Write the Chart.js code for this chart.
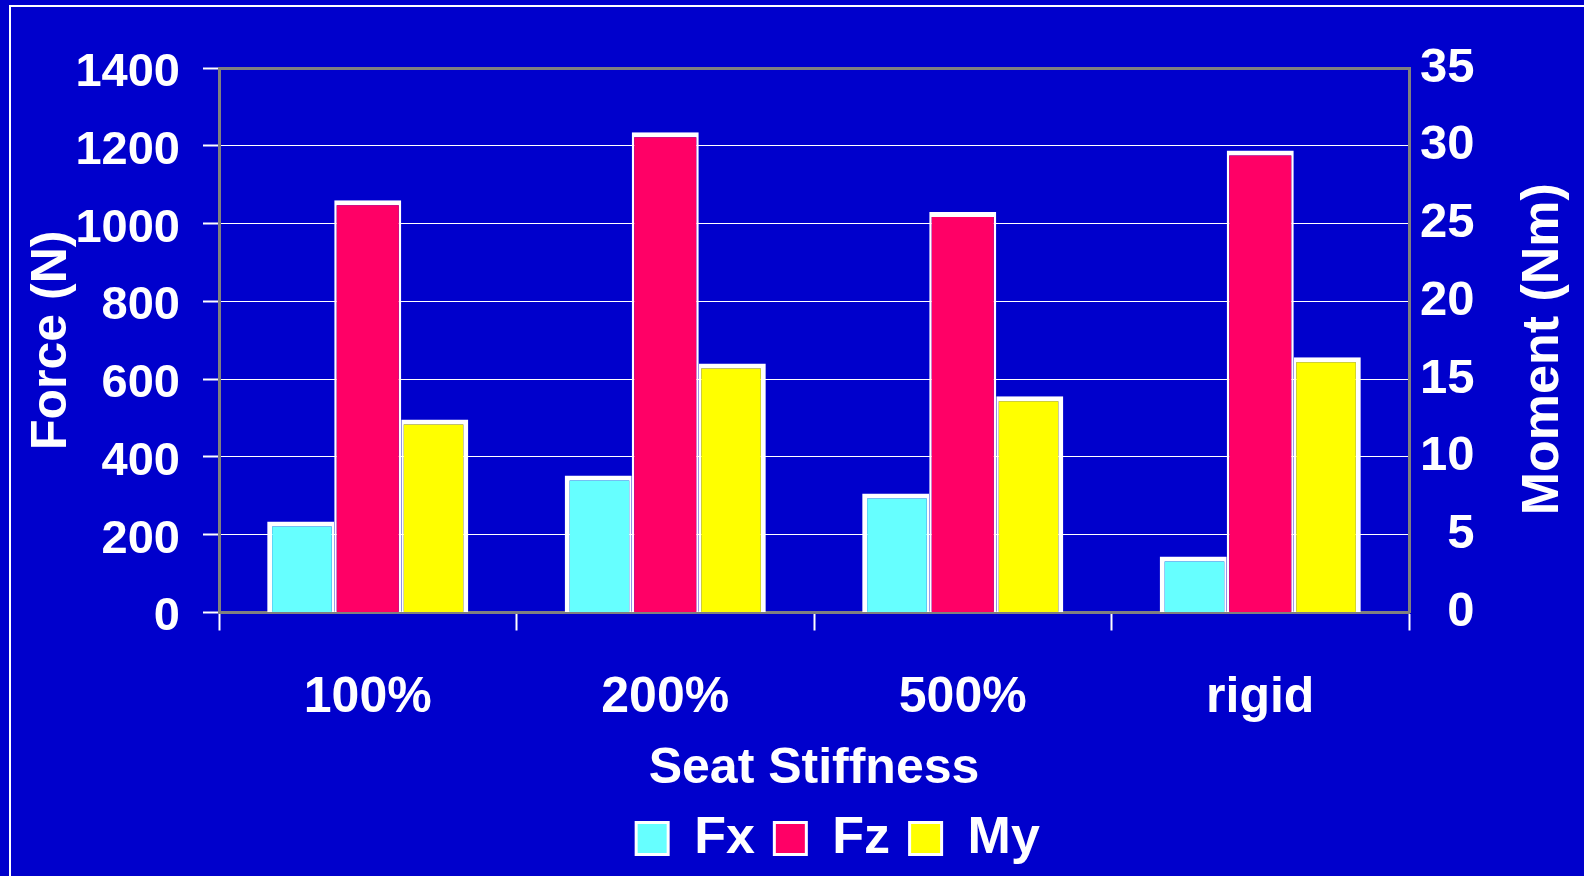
<!DOCTYPE html>
<html>
<head>
<meta charset="utf-8">
<title>Seat Stiffness</title>
<script src="https://cdn.jsdelivr.net/npm/chart.js@4/dist/chart.umd.min.js"></script>
<style>
  html, body { margin: 0; padding: 0; background: #0000cc; }
  #wrap { width: 1584px; height: 876px; position: relative; }
</style>
</head>
<body>
<div id="wrap"><canvas id="chart"></canvas></div>
<script>
// seat stiffness cases and measured loads
const categories = ['100%', '200%', '500%', 'rigid'];
const fx = [234, 352, 306, 144];      // N
const fz = [1060, 1235, 1030, 1188];  // N
const my = [12.4, 16.0, 13.9, 16.4];  // Nm

const forceTicks = [0, 200, 400, 600, 800, 1000, 1200, 1400];
const momentTicks = [0, 5, 10, 15, 20, 25, 30, 35];
const momentTitle = 'Moment (Nm)';

const BG = '#0000cc';
const GREY = '#808080';
const FONT = '"Liberation Sans", Arial, sans-serif';

// paint the slide background and the white frame behind everything
const backdrop = {
    id: 'backdrop',
    beforeDraw(chart) {
        const ctx = chart.ctx;
        ctx.save();
        ctx.fillStyle = BG;
        ctx.fillRect(0, 0, chart.width, chart.height);
        ctx.strokeStyle = '#ffffff';
        ctx.lineWidth = 2;
        ctx.strokeRect(10, 6, chart.width + 20, chart.height + 20);
        ctx.restore();
    }
};

// Chart.js turns right-hand titles clockwise; this one reads bottom-to-top
const rightTitle = {
    id: 'rightTitle',
    afterDraw(chart) {
        const scale = chart.scales.y1;
        const area = chart.chartArea;
        const ctx = chart.ctx;
        ctx.save();
        ctx.translate(scale.right - 40, (area.top + area.bottom) / 2 + 9);
        ctx.rotate(-Math.PI / 2);
        ctx.font = 'bold 52px ' + FONT;
        ctx.fillStyle = '#ffffff';
        ctx.textAlign = 'center';
        ctx.textBaseline = 'middle';
        ctx.fillText(momentTitle, 0, 0);
        ctx.restore();
    }
};

// the legend row sits a little right of the page centre
const legendNudge = {
    id: 'legendNudge',
    afterLayout(chart) {
        const lg = chart.legend;
        if (!lg) return;
        lg.left += 46;
        lg.right += 46;
    }
};

Chart.defaults.font.family = FONT;
Chart.defaults.font.weight = 'bold';
Chart.defaults.color = '#ffffff';

new Chart(document.getElementById('chart'), {
    type: 'bar',
    data: {
        labels: categories,
        datasets: [
            {
                label: 'Fx',
                data: fx,
                yAxisID: 'y',
                backgroundColor: '#66ffff',
                borderColor: '#ffffff',
                borderWidth: { left: 5, top: 5, right: 2.5, bottom: 0 }
            },
            {
                label: 'Fz',
                data: fz,
                yAxisID: 'y',
                backgroundColor: '#ff0066',
                borderColor: '#ffffff',
                borderWidth: { left: 2.5, top: 5, right: 2.5, bottom: 0 }
            },
            {
                label: 'My',
                data: my,
                yAxisID: 'y1',
                backgroundColor: '#ffff00',
                borderColor: '#ffffff',
                borderWidth: { left: 2.5, top: 5, right: 5, bottom: 0 }
            }
        ]
    },
    options: {
        responsive: true,
        maintainAspectRatio: false,
        animation: false,
        datasets: {
            bar: { categoryPercentage: 0.676, barPercentage: 1.0 }
        },
        layout: { padding: { top: 68, left: 0, right: 0, bottom: 1.5 } },
        plugins: {
            tooltip: { enabled: false },
            legend: {
                position: 'bottom',
                labels: {
                    color: '#ffffff',
                    font: { size: 52, weight: 'bold' },
                    boxWidth: 32,
                    boxHeight: 32,
                    padding: 19.5,
                    generateLabels(chart) {
                        const items = Chart.defaults.plugins.legend.labels.generateLabels(chart);
                        return items.map(it => ({ ...it, lineWidth: 3, strokeStyle: '#ffffff' }));
                    }
                }
            }
        },
        scales: {
            x: {
                afterFit(scale) { scale.height = 180.5; },
                grid: {
                    drawOnChartArea: false,
                    tickLength: 18,
                    tickColor: '#ffffff',
                    tickWidth: 2
                },
                border: { color: GREY, width: 3 },
                ticks: { font: { size: 50 }, padding: 38 },
                title: {
                    display: true,
                    text: 'Seat Stiffness',
                    font: { size: 50 },
                    padding: { top: 0, bottom: -6 }
                }
            },
            y: {
                position: 'left',
                min: 0,
                max: 1400,
                afterFit(scale) { scale.width = 219; },
                afterBuildTicks(scale) {
                    scale.ticks = forceTicks.map(v => ({ value: v }));
                },
                grid: {
                    color: ctx => ctx.tick && ctx.tick.value === 1400 ? GREY : '#ffffff',
                    lineWidth: ctx => ctx.tick && ctx.tick.value === 1400 ? 3 : 1,
                    tickLength: 16,
                    tickColor: '#ffffff',
                    tickWidth: 2
                },
                border: { color: GREY, width: 3 },
                ticks: {
                    font: { size: 47 },
                    padding: 23,
                    labelOffset: 5,
                    callback: v => String(v)
                },
                title: {
                    display: true,
                    text: 'Force (N)',
                    font: { size: 50 },
                    padding: { top: 22, bottom: 0 }
                }
            },
            y1: {
                position: 'right',
                min: 0,
                max: 35,
                afterFit(scale) { scale.width = 175; },
                afterBuildTicks(scale) {
                    scale.ticks = momentTicks.map(v => ({ value: v }));
                },
                grid: { drawOnChartArea: false, drawTicks: false },
                border: { color: GREY, width: 3 },
                ticks: {
                    font: { size: 49 },
                    padding: 11,
                    // right-align the single digits under the two-digit labels
                    callback: v => String(v).padStart(2, '\u2007')
                },
                title: { display: false }
            }
        }
    },
    plugins: [backdrop, rightTitle, legendNudge]
});
</script>
</body>
</html>
